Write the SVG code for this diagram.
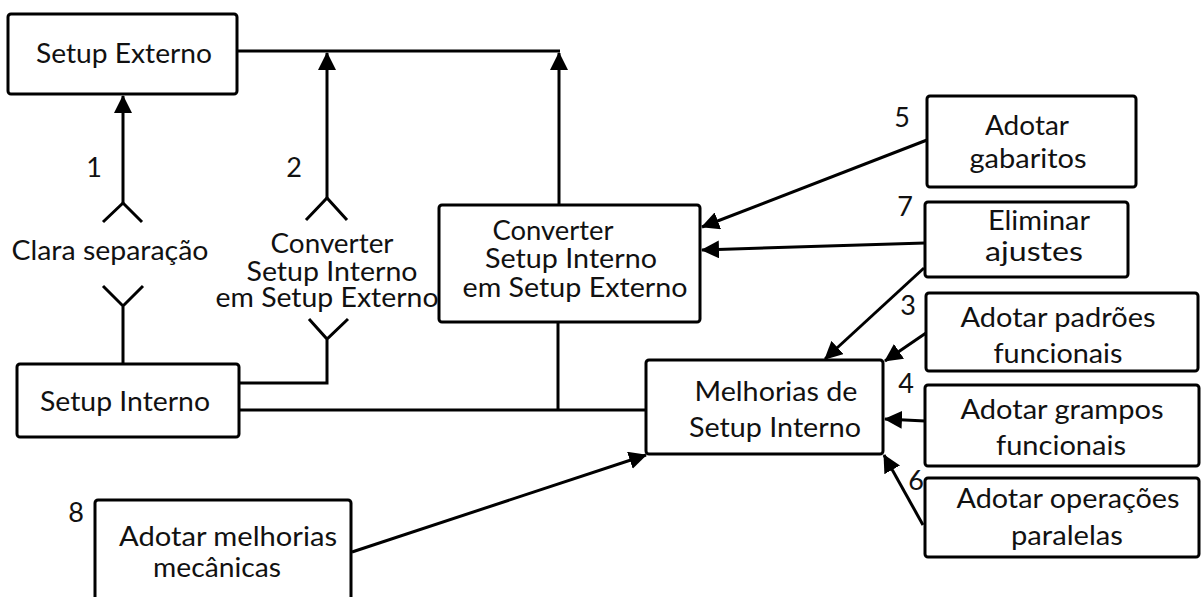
<svg xmlns="http://www.w3.org/2000/svg" width="1203" height="597" viewBox="0 0 1203 597">
  <style>
    .box { fill: #ffffff; stroke: #000000; stroke-width: 3; }
    .lbl { font-family: Lato, "Liberation Sans", sans-serif; font-size: 27px; fill: #111111; text-anchor: middle; }
    .num { font-family: Lato, "Liberation Sans", sans-serif; font-size: 27px; fill: #111111; text-anchor: middle; }
    .wire { fill: none; stroke: #000000; stroke-width: 3; }
    .arrow { fill: none; stroke: #000000; stroke-width: 3; marker-end: url(#head); }
  </style>
  <defs>
    <marker id="head" viewBox="0 0 18 18" refX="17" refY="9" markerWidth="18" markerHeight="18" markerUnits="userSpaceOnUse" orient="auto">
      <path d="M0,0 L18,9 L0,18 z" fill="#000000"/>
    </marker>
  </defs>

  <rect width="1203" height="597" fill="#ffffff"/>

  <!-- connectors -->
  <g id="connectors">
    <!-- 1: Setup Interno -> Setup Externo through the separation junction -->
    <path class="wire" d="M123,364 V306 M103,286 L123,306 L143,286"/>
    <path class="wire" d="M103,222 L123,203 L142,222"/>
    <path class="arrow" d="M123,203 V96"/>
    <!-- 2: Setup Interno -> Setup Externo via conversion -->
    <path class="wire" d="M239,383 H327 V339 M309,319 L327,339 L348,319"/>
    <path class="wire" d="M306,220 L327,198 L347,220"/>
    <path class="arrow" d="M327,198 V53"/>
    <!-- top bus from Setup Externo -->
    <path class="wire" d="M237,51 H560"/>
    <path class="arrow" d="M559,205 V53"/>
    <!-- bottom bus from Setup Interno -->
    <path class="wire" d="M239,410 H646"/>
    <path class="wire" d="M558,322 V410"/>
    <!-- side improvements -->
    <path class="arrow" d="M927,140 L702,227"/>
    <path class="arrow" d="M925,243 L702,250"/>
    <path class="arrow" d="M924,268 L825,359"/>
    <path class="arrow" d="M926,333 L885,361"/>
    <path class="arrow" d="M925,421 L885,419"/>
    <path class="arrow" d="M923,525 L884,455"/>
    <path class="arrow" d="M352,552 L646,455"/>
  </g>

  <!-- step numbers and junction labels -->
  <g id="labels">
    <text class="num" x="94" y="177">1</text>
    <text class="num" x="294" y="177">2</text>
    <text class="num" x="902" y="127">5</text>
    <text class="num" x="905" y="216">7</text>
    <text class="num" x="908" y="315">3</text>
    <text class="num" x="906" y="393">4</text>
    <text class="num" x="916" y="490">6</text>
    <text class="num" x="76" y="522">8</text>
    <text class="lbl" x="110" y="260" textLength="197" lengthAdjust="spacingAndGlyphs">Clara separação</text>
    <text class="lbl" x="332" y="253" textLength="123" lengthAdjust="spacingAndGlyphs">Converter</text>
    <text class="lbl" x="332" y="281" textLength="171" lengthAdjust="spacingAndGlyphs">Setup Interno</text>
    <text class="lbl" x="327" y="307" textLength="223" lengthAdjust="spacingAndGlyphs">em Setup Externo</text>
  </g>

  <g id="setup-externo">
    <rect class="box" x="8" y="14" width="229" height="80" rx="3"/>
    <text class="lbl" x="124" y="63" textLength="176" lengthAdjust="spacingAndGlyphs">Setup Externo</text>
  </g>

  <g id="setup-interno">
    <rect class="box" x="17" y="364" width="222" height="73" rx="3"/>
    <text class="lbl" x="125" y="411" textLength="170" lengthAdjust="spacingAndGlyphs">Setup Interno</text>
  </g>

  <g id="converter">
    <rect class="box" x="439" y="205" width="261" height="117" rx="3"/>
    <text class="lbl" x="553" y="240" textLength="121" lengthAdjust="spacingAndGlyphs">Converter</text>
    <text class="lbl" x="571" y="268" textLength="172" lengthAdjust="spacingAndGlyphs">Setup Interno</text>
    <text class="lbl" x="575" y="297" textLength="225" lengthAdjust="spacingAndGlyphs">em Setup Externo</text>
  </g>

  <g id="gabaritos">
    <rect class="box" x="927" y="96" width="209" height="91" rx="3"/>
    <text class="lbl" x="1027" y="135" textLength="84" lengthAdjust="spacingAndGlyphs">Adotar</text>
    <text class="lbl" x="1028" y="168" textLength="117" lengthAdjust="spacingAndGlyphs">gabaritos</text>
  </g>

  <g id="eliminar-ajustes">
    <rect class="box" x="925" y="202" width="203" height="75" rx="3"/>
    <text class="lbl" x="1039" y="230" textLength="102" lengthAdjust="spacingAndGlyphs">Eliminar</text>
    <text class="lbl" x="1034" y="261" textLength="98" lengthAdjust="spacingAndGlyphs">ajustes</text>
  </g>

  <g id="padroes">
    <rect class="box" x="926" y="293" width="272" height="78" rx="3"/>
    <text class="lbl" x="1058" y="327" textLength="195" lengthAdjust="spacingAndGlyphs">Adotar padrões</text>
    <text class="lbl" x="1058" y="363" textLength="129" lengthAdjust="spacingAndGlyphs">funcionais</text>
  </g>

  <g id="grampos">
    <rect class="box" x="925" y="385" width="274" height="81" rx="3"/>
    <text class="lbl" x="1062" y="419" textLength="203" lengthAdjust="spacingAndGlyphs">Adotar grampos</text>
    <text class="lbl" x="1061" y="455" textLength="130" lengthAdjust="spacingAndGlyphs">funcionais</text>
  </g>

  <g id="operacoes">
    <rect class="box" x="925" y="478" width="274" height="79" rx="3"/>
    <text class="lbl" x="1068" y="508" textLength="223" lengthAdjust="spacingAndGlyphs">Adotar operações</text>
    <text class="lbl" x="1067" y="545" textLength="112" lengthAdjust="spacingAndGlyphs">paralelas</text>
  </g>

  <g id="melhorias">
    <rect class="box" x="646" y="360" width="237" height="94" rx="3"/>
    <text class="lbl" x="776" y="401" textLength="163" lengthAdjust="spacingAndGlyphs">Melhorias de</text>
    <text class="lbl" x="775" y="437" textLength="172" lengthAdjust="spacingAndGlyphs">Setup Interno</text>
  </g>

  <g id="mecanicas">
    <rect class="box" x="95" y="500" width="256" height="110" rx="3"/>
    <text class="lbl" x="228" y="546" textLength="218" lengthAdjust="spacingAndGlyphs">Adotar melhorias</text>
    <text class="lbl" x="217" y="577" textLength="128" lengthAdjust="spacingAndGlyphs">mecânicas</text>
  </g>
</svg>
